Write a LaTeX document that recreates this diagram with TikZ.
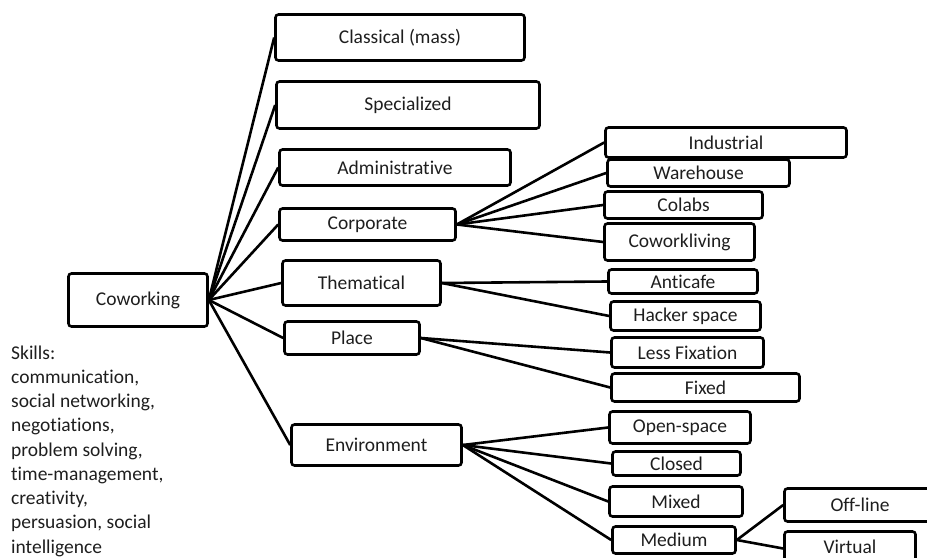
\documentclass[tikz,border=0pt]{standalone}
\usepackage{fontspec}
\setmainfont{Carlito}[Ligatures={NoCommon}]
\begin{document}
\begin{tikzpicture}[x=1bp,y=-1bp]
\tikzset{
  nbox/.style={draw=black, line width=2.6bp, rounded corners=3bp, inner sep=0pt,
    font=\fontsize{19.5bp}{23bp}\selectfont, text={rgb,255:red,30;green,30;blue,30}},
  link/.style={draw=black, line width=2.6bp},
  skills/.style={inner sep=0pt, align=left, anchor=north west,
    font=\fontsize{19.5bp}{24.25bp}\selectfont, text={rgb,255:red,30;green,30;blue,30}}
}
\useasboundingbox (0,0) rectangle (927,558);
% root
\node[nbox, minimum width=139bp, minimum height=53bp] (cow) at (138,300) {Coworking};
% first level
\node[nbox, minimum width=249bp, minimum height=46bp] (cla) at (400,37.5) {Classical (mass)};
\node[nbox, minimum width=263bp, minimum height=47bp] (spe) at (408,105) {Specialized};
\node[nbox, minimum width=231bp, minimum height=36bp] (adm) at (395,167.5) {Administrative};
\node[nbox, minimum width=176bp, minimum height=32bp] (cor) at (367.5,224.5) {Corporate};
\node[nbox, minimum width=158bp, minimum height=45bp] (the) at (361.5,283) {Thematical};
\node[nbox, minimum width=135bp, minimum height=33bp] (pla) at (352,338) {Place};
\node[nbox, minimum width=170bp, minimum height=41bp] (env) at (376.5,445) {Environment};
% second level
\node[nbox, minimum width=241bp, minimum height=30bp] (ind) at (726,142.5) {Industrial};
\node[nbox, minimum width=182bp, minimum height=27bp] (war) at (698.5,173) {Warehouse};
\node[nbox, minimum width=158bp, minimum height=27bp] (col) at (683.5,205) {Colabs};
\node[nbox, minimum width=150bp, minimum height=37bp] (cwl) at (679.5,242) {Coworkliving};
\node[nbox, minimum width=149bp, minimum height=24bp] (ant) at (683,281.5) {Anticafe};
\node[nbox, minimum width=150bp, minimum height=29bp] (hac) at (685.5,316) {Hacker space};
\node[nbox, minimum width=152bp, minimum height=30bp] (les) at (687.5,352.5) {Less Fixation};
\node[nbox, minimum width=188bp, minimum height=28bp] (fix) at (705.5,387.5) {Fixed};
\node[nbox, minimum width=141bp, minimum height=32bp] (ope) at (680,427.5) {Open-space};
\node[nbox, minimum width=128bp, minimum height=24bp] (clo) at (676.5,463.5) {Closed};
\node[nbox, minimum width=133bp, minimum height=30bp] (mix) at (676,501.5) {Mixed};
\node[nbox, minimum width=123bp, minimum height=27bp] (med) at (674,540) {Medium};
% third level
\node[nbox, minimum width=151bp, minimum height=33bp] (off) at (860,505) {Off-line};
\node[nbox, minimum width=131bp, minimum height=34bp] (vir) at (850,548.5) {\raisebox{3bp}{Virtual}};
% skills text
\node[skills] (skl) at (11,345.5) {Skills:\\communication,\\social networking,\\negotiations,\\problem solving,\\time-management,\\creativity,\\persuasion, social\\intelligence};
% connectors
\foreach \t in {cla,spe,adm,cor,the,pla,env} \draw[link] (cow.east) -- (\t.west);
\foreach \t in {ind,war,col,cwl} \draw[link] (cor.east) -- (\t.west);
\foreach \t in {ant,hac} \draw[link] (the.east) -- (\t.west);
\foreach \t in {les,fix} \draw[link] (pla.east) -- (\t.west);
\foreach \t in {ope,clo,mix,med} \draw[link] (env.east) -- (\t.west);
\foreach \t in {off,vir} \draw[link] (med.east) -- (\t.west);
\end{tikzpicture}
\end{document}
